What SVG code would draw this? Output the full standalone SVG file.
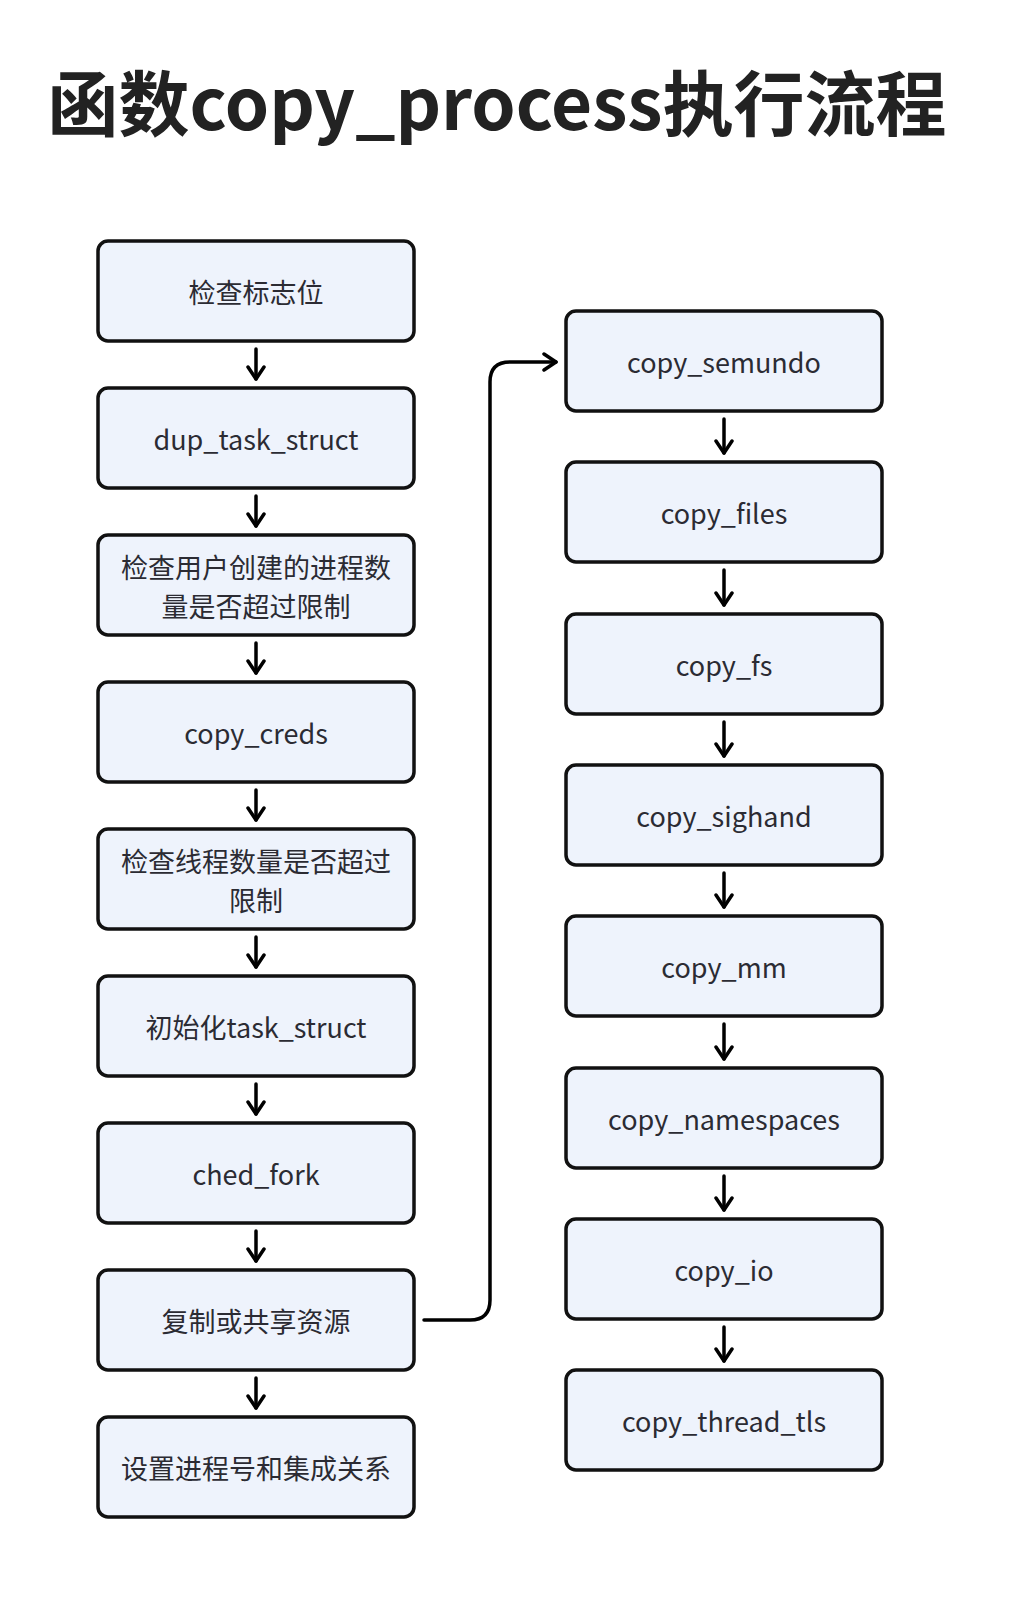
<svg xmlns="http://www.w3.org/2000/svg" width="1014" height="1600" viewBox="0 0 1014 1600">
<defs>
<style>
.box{fill:#EEF3FC;stroke:#111;stroke-width:3.5}
.t{font-family:"Noto Sans CJK SC","Noto Sans",sans-serif;font-size:27px;fill:#2b2b33;text-anchor:middle;dominant-baseline:central}
.title{font-family:"Noto Sans CJK SC","Noto Sans",sans-serif;font-size:71px;font-weight:bold;fill:#222;text-anchor:middle}
.c{fill:none;stroke:#000;stroke-width:3.5;stroke-linecap:round;stroke-linejoin:round}
</style>
<marker id="ah" viewBox="0 0 20 20" refX="17" refY="10" markerWidth="20" markerHeight="20" markerUnits="userSpaceOnUse" orient="auto">
<path d="M5,2 L17,10 L5,18" fill="none" stroke="#000" stroke-width="3.5" stroke-linecap="round" stroke-linejoin="round"/>
</marker>
</defs>
<rect width="1014" height="1600" fill="#fff"/>
<text class="title" x="497" y="130">函数copy_process执行流程</text>
<g id="n1"><rect class="box" x="98" y="241" width="316" height="100" rx="10"/><text class="t" x="256" y="291">检查标志位</text></g>
<g id="n2"><rect class="box" x="98" y="388" width="316" height="100" rx="10"/><text class="t" x="256" y="438">dup_task_struct</text></g>
<g id="n3"><rect class="box" x="98" y="535" width="316" height="100" rx="10"/><text class="t" x="256" y="566">检查用户创建的进程数</text><text class="t" x="256" y="605">量是否超过限制</text></g>
<g id="n4"><rect class="box" x="98" y="682" width="316" height="100" rx="10"/><text class="t" x="256" y="732">copy_creds</text></g>
<g id="n5"><rect class="box" x="98" y="829" width="316" height="100" rx="10"/><text class="t" x="256" y="860">检查线程数量是否超过</text><text class="t" x="256" y="899">限制</text></g>
<g id="n6"><rect class="box" x="98" y="976" width="316" height="100" rx="10"/><text class="t" x="256" y="1026">初始化task_struct</text></g>
<g id="n7"><rect class="box" x="98" y="1123" width="316" height="100" rx="10"/><text class="t" x="256" y="1173">ched_fork</text></g>
<g id="n8"><rect class="box" x="98" y="1270" width="316" height="100" rx="10"/><text class="t" x="256" y="1320">复制或共享资源</text></g>
<g id="n9"><rect class="box" x="98" y="1417" width="316" height="100" rx="10"/><text class="t" x="256" y="1467">设置进程号和集成关系</text></g>
<g id="r1"><rect class="box" x="566" y="311" width="316" height="100" rx="10"/><text class="t" x="724" y="361">copy_semundo</text></g>
<g id="r2"><rect class="box" x="566" y="462" width="316" height="100" rx="10"/><text class="t" x="724" y="512">copy_files</text></g>
<g id="r3"><rect class="box" x="566" y="614" width="316" height="100" rx="10"/><text class="t" x="724" y="664">copy_fs</text></g>
<g id="r4"><rect class="box" x="566" y="765" width="316" height="100" rx="10"/><text class="t" x="724" y="815">copy_sighand</text></g>
<g id="r5"><rect class="box" x="566" y="916" width="316" height="100" rx="10"/><text class="t" x="724" y="966">copy_mm</text></g>
<g id="r6"><rect class="box" x="566" y="1068" width="316" height="100" rx="10"/><text class="t" x="724" y="1118">copy_namespaces</text></g>
<g id="r7"><rect class="box" x="566" y="1219" width="316" height="100" rx="10"/><text class="t" x="724" y="1269">copy_io</text></g>
<g id="r8"><rect class="box" x="566" y="1370" width="316" height="100" rx="10"/><text class="t" x="724" y="1420">copy_thread_tls</text></g>
<g id="connectors">
<path class="c" marker-end="url(#ah)" d="M256,349 V379"/>
<path class="c" marker-end="url(#ah)" d="M256,496 V526"/>
<path class="c" marker-end="url(#ah)" d="M256,643 V673"/>
<path class="c" marker-end="url(#ah)" d="M256,790 V820"/>
<path class="c" marker-end="url(#ah)" d="M256,937 V967"/>
<path class="c" marker-end="url(#ah)" d="M256,1084 V1114"/>
<path class="c" marker-end="url(#ah)" d="M256,1231 V1261"/>
<path class="c" marker-end="url(#ah)" d="M256,1378 V1408"/>
<path class="c" marker-end="url(#ah)" d="M724,419 V453"/>
<path class="c" marker-end="url(#ah)" d="M724,570 V605"/>
<path class="c" marker-end="url(#ah)" d="M724,722 V756"/>
<path class="c" marker-end="url(#ah)" d="M724,873 V907"/>
<path class="c" marker-end="url(#ah)" d="M724,1024 V1059"/>
<path class="c" marker-end="url(#ah)" d="M724,1176 V1210"/>
<path class="c" marker-end="url(#ah)" d="M724,1327 V1361"/>
<path class="c" marker-end="url(#ah)" d="M424,1320 H470 Q490,1320 490,1300 V382 Q490,362 510,362 H556"/>
</g>
</svg>
